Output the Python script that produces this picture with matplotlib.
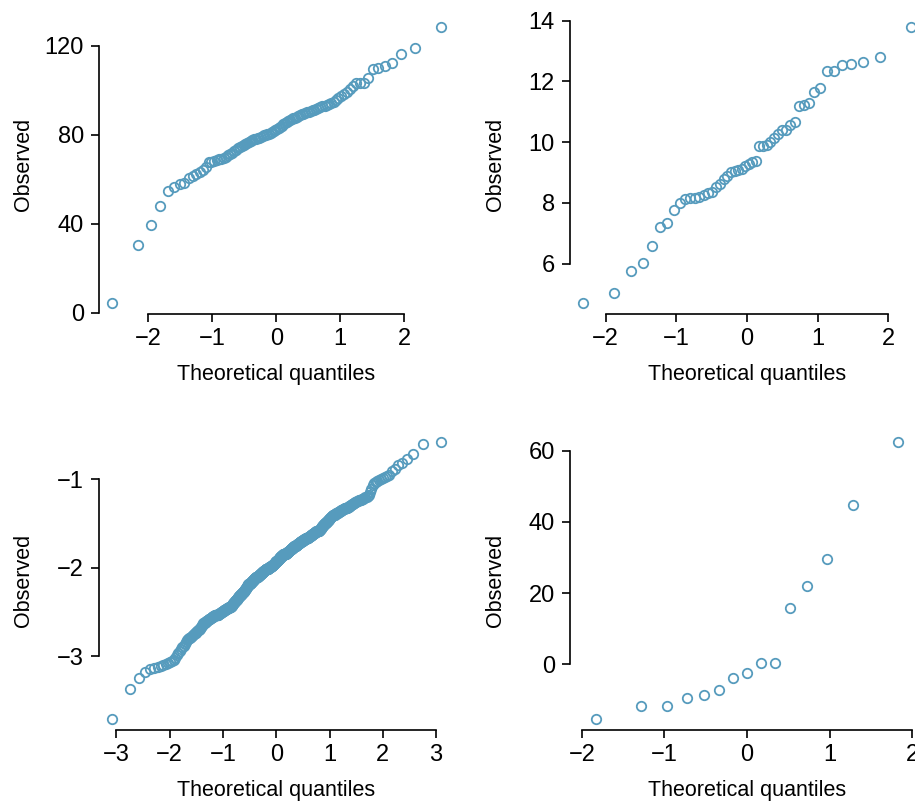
import matplotlib
matplotlib.use("Agg")
import matplotlib.pyplot as plt
from statistics import NormalDist

plt.rcParams['font.family'] = ['Liberation Sans', 'DejaVu Sans']

# ---------------- data (sorted observed values) ----------------
obs_a = [4.5, 30.7, 39.7, 48.0, 55.0, 56.5, 58.0, 58.3, 60.5, 61.7,
         62.3, 63.2, 64.4, 65.5, 68.0, 68.0, 68.3, 68.6, 69.0, 69.2,
         69.8, 70.3, 70.8, 71.3, 72.0, 72.6, 73.3, 74.0, 74.8, 75.1,
         75.5, 76.0, 76.5, 77.0, 77.3, 77.7, 78.0, 78.2, 78.5, 78.7,
         79.2, 79.5, 79.8, 80.0, 80.3, 80.6, 81.0, 81.4, 81.8, 82.2,
         82.7, 83.2, 83.7, 84.2, 84.7, 85.2, 85.7, 86.2, 86.7, 87.1,
         87.5, 87.8, 88.2, 88.5, 88.8, 89.2, 89.5, 89.8, 90.1, 90.4,
         90.6, 91.0, 91.4, 91.8, 92.2, 92.5, 92.8, 93.2, 93.6, 94.0,
         94.5, 94.9, 95.6, 96.5, 97.5, 98.3, 99.5, 100.7, 102.2, 103.2,
         103.2, 103.4, 105.8, 109.7, 110.0, 111.0, 112.5, 116.4, 119.1, 128.7]

obs_b = [4.70, 5.02, 5.76, 6.02, 6.59, 7.20, 7.32, 7.78, 7.98, 8.12,
         8.17, 8.17, 8.19, 8.26, 8.32, 8.37, 8.52, 8.62, 8.78, 8.89,
         9.00, 9.05, 9.09, 9.11, 9.20, 9.27, 9.33, 9.39, 9.88, 9.88,
         9.91, 10.00, 10.13, 10.26, 10.41, 10.41, 10.57, 10.65, 11.18, 11.23,
         11.29, 11.65, 11.80, 12.36, 12.36, 12.55, 12.58, 12.64, 12.80, 13.81]

obs_c = [
    -3.71, -3.37, -3.25, -3.18, -3.14, -3.13,
    -3.12, -3.11, -3.10, -3.09, -3.08, -3.07, -3.06, -3.04, -3.02, -2.99,
    -2.96, -2.94, -2.92, -2.90, -2.88, -2.86, -2.84, -2.82,
    -2.81, -2.80, -2.79, -2.78, -2.77, -2.76, -2.75, -2.74, -2.74, -2.73,
    -2.72, -2.71, -2.70, -2.69, -2.68, -2.67, -2.66, -2.65, -2.63,
    -2.62, -2.62, -2.61, -2.61, -2.60, -2.60, -2.59, -2.59, -2.58, -2.58,
    -2.58, -2.57, -2.57, -2.56, -2.56, -2.56, -2.55, -2.55, -2.55, -2.54,
    -2.54, -2.54, -2.54,
    -2.53, -2.53, -2.53, -2.52, -2.52, -2.52, -2.51, -2.51, -2.51, -2.50,
    -2.50, -2.50, -2.49, -2.49, -2.49, -2.48, -2.48, -2.48, -2.48, -2.47,
    -2.47, -2.47, -2.47, -2.46, -2.46, -2.46, -2.46, -2.45, -2.45, -2.45,
    -2.45,
    -2.44, -2.44, -2.43, -2.43, -2.42, -2.42, -2.41, -2.41, -2.40, -2.40,
    -2.39, -2.39, -2.38, -2.38, -2.37, -2.37, -2.36, -2.36, -2.35, -2.35,
    -2.34, -2.34, -2.33, -2.33, -2.32, -2.32, -2.32, -2.31, -2.31, -2.31,
    -2.30, -2.30, -2.30, -2.29, -2.29, -2.28, -2.28,
    -2.27, -2.27, -2.26, -2.26, -2.25, -2.25, -2.24, -2.24, -2.23, -2.23,
    -2.22, -2.22, -2.21, -2.21, -2.20, -2.20, -2.19, -2.19, -2.19, -2.18,
    -2.18,
    -2.18, -2.17, -2.17, -2.17, -2.16, -2.16, -2.16, -2.15, -2.15, -2.15,
    -2.14, -2.14, -2.14, -2.13, -2.13, -2.13, -2.12, -2.12, -2.12, -2.12,
    -2.11, -2.11, -2.11,
    -2.10, -2.10, -2.10, -2.10, -2.09, -2.09, -2.09, -2.09, -2.08, -2.08,
    -2.08, -2.08, -2.07, -2.07, -2.07, -2.07, -2.06, -2.06, -2.06, -2.06,
    -2.05, -2.05, -2.05, -2.05, -2.04, -2.04, -2.04, -2.04, -2.03, -2.03,
    -2.03, -2.03, -2.02, -2.02, -2.02, -2.02, -2.01, -2.01, -2.01, -2.01,
    -2.01, -2.00, -2.00, -2.00, -2.00, -2.00, -1.99, -1.99, -1.99, -1.99,
    -1.99, -1.99, -1.98, -1.98, -1.98, -1.98, -1.98, -1.97, -1.97, -1.97, -1.97,
    -1.97, -1.96, -1.96, -1.96, -1.95, -1.95, -1.95, -1.94, -1.94, -1.94,
    -1.93, -1.93, -1.93, -1.92, -1.92, -1.92, -1.91, -1.91, -1.91, -1.90,
    -1.90, -1.90, -1.89, -1.89, -1.89, -1.88, -1.88, -1.88, -1.88, -1.87,
    -1.87, -1.87, -1.87, -1.86, -1.86, -1.86, -1.86, -1.85, -1.85, -1.85,
    -1.85, -1.85, -1.84, -1.84, -1.84, -1.84, -1.84, -1.83, -1.83, -1.83,
    -1.83, -1.83, -1.82, -1.82, -1.82, -1.82, -1.81, -1.81, -1.81, -1.81,
    -1.80, -1.80, -1.80, -1.80, -1.79, -1.79, -1.79, -1.79, -1.78, -1.78,
    -1.78, -1.78, -1.77, -1.77, -1.77, -1.77, -1.76, -1.76, -1.76, -1.76,
    -1.75, -1.75, -1.75, -1.75, -1.74, -1.74, -1.74, -1.74, -1.73, -1.73,
    -1.73, -1.73, -1.72, -1.72, -1.72, -1.72, -1.71, -1.71, -1.71, -1.71,
    -1.71, -1.70, -1.70, -1.70, -1.70, -1.70, -1.69, -1.69, -1.69, -1.69,
    -1.69, -1.68, -1.68, -1.68, -1.68, -1.68, -1.67, -1.67, -1.67,
    -1.67, -1.66, -1.66, -1.66, -1.66, -1.65, -1.65, -1.65, -1.65, -1.64,
    -1.64, -1.64, -1.64, -1.63, -1.63, -1.63, -1.63, -1.62, -1.62, -1.62,
    -1.62, -1.61, -1.61, -1.61, -1.61, -1.60, -1.60, -1.60, -1.60, -1.59,
    -1.59, -1.59, -1.59, -1.58, -1.58, -1.58, -1.58, -1.57, -1.57,
    -1.56, -1.56, -1.55, -1.55, -1.54, -1.54, -1.53, -1.53, -1.52, -1.52,
    -1.51, -1.51, -1.50, -1.50, -1.49, -1.49, -1.48, -1.48, -1.47, -1.47,
    -1.46, -1.46, -1.45, -1.45, -1.44, -1.44, -1.43, -1.43, -1.42, -1.42,
    -1.41, -1.41,
    -1.40, -1.40, -1.40, -1.39, -1.39, -1.39, -1.38, -1.38, -1.38, -1.37,
    -1.37, -1.37, -1.36, -1.36, -1.36, -1.35, -1.35, -1.35, -1.34, -1.34,
    -1.34, -1.33, -1.33, -1.33, -1.32,
    -1.32, -1.31, -1.31, -1.30, -1.30, -1.29, -1.29, -1.28, -1.28, -1.27,
    -1.27, -1.26, -1.26, -1.25, -1.25, -1.24, -1.24,
    -1.23, -1.23, -1.22, -1.22, -1.21, -1.20, -1.20, -1.19, -1.18,
    -1.14, -1.11, -1.07, -1.04,
    -1.03, -1.02, -1.01, -1.00, -0.99,
    -0.98, -0.96, -0.95, -0.91, -0.88, -0.84, -0.82, -0.77, -0.72,
    -0.60, -0.58]

obs_d = [-15.3, -11.8, -11.6, -9.5, -8.7, -7.2, -3.85, -2.4, 0.4, 0.4,
         15.9, 22.0, 29.7, 44.7, 62.4]

yticks_a = [0, 40, 80, 120]
yticks_b = [6, 8, 10, 12, 14]
yticks_c = [-3, -2, -1]
yticks_d = [0, 20, 40, 60]
xticks_a = [-2, -1, 0, 1, 2]
xticks_b = [-2, -1, 0, 1, 2]
xticks_c = [-3, -2, -1, 0, 1, 2, 3]
xticks_d = [-2, -1, 0, 1, 2]

xlabel = "Theoretical quantiles"
ylabel = "Observed"
COLOR = "#569BBD"


def theo_quantiles(n):
    a = 3.0 / 8 if n <= 10 else 0.5
    nd = NormalDist()
    return [nd.inv_cdf((i + 1 - a) / (n + 1 - 2 * a)) for i in range(n)]


W, H = 915, 801
fig = plt.figure(figsize=(W / 100, H / 100), dpi=100)

# axes boxes in pixels: (left, top, right, bottom)
boxes = [(98.5, 15.5, 454, 314), (569.5, 15.5, 924.5, 314),
         (98.5, 431, 454, 730), (569.5, 431, 924.5, 730)]
panels = [(obs_a, xticks_a, yticks_a, None),
          (obs_b, xticks_b, yticks_b, None),
          (obs_c, xticks_c, yticks_c, None),
          (obs_d, xticks_d, yticks_d, (-2.15, 2.15))]

for (l, t, r, b), (obs, xt, yt, xl) in zip(boxes, panels):
    wpx, hpx = r - l, b - t
    ax = fig.add_axes([l / W, 1 - b / H, wpx / W, hpx / H])
    ys = sorted(obs)
    xs = theo_quantiles(len(ys))
    ax.plot(xs, ys, linestyle='none', marker='o', markersize=6.8,
            markerfacecolor='none', markeredgecolor=COLOR,
            markeredgewidth=1.3, clip_on=False)
    ax.margins(0.04)
    if xl is not None:
        ax.set_xlim(*xl)
    ax.set_xticks(xt)
    ax.set_yticks(yt)
    ax.set_xticklabels([str(v).replace('-', '\u2212') for v in xt])
    ax.set_yticklabels([str(v).replace('-', '\u2212') for v in yt])
    for s in ['top', 'right']:
        ax.spines[s].set_visible(False)
    ax.spines['left'].set_bounds(min(yt), max(yt))
    ax.spines['bottom'].set_bounds(min(xt), max(xt))
    for s in ['left', 'bottom']:
        ax.spines[s].set_linewidth(1.2)
        ax.spines[s].set_color('black')
    ax.tick_params(axis='both', length=5.5, width=1.2, labelsize=17,
                   colors='black')
    ax.tick_params(axis='x', pad=4.5)
    ax.tick_params(axis='y', pad=5)
    ax.set_xlabel(xlabel, fontsize=15.5)
    ax.set_ylabel(ylabel, fontsize=15.5)
    ax.xaxis.set_label_coords(0.5, -60.5 / hpx)
    ax.yaxis.set_label_coords(-74.5 / wpx, 0.5)
    ax.xaxis.label.set_va('center')
    ax.yaxis.label.set_va('center')
    ax.patch.set_visible(False)

fig.savefig("out.png", dpi=100)
